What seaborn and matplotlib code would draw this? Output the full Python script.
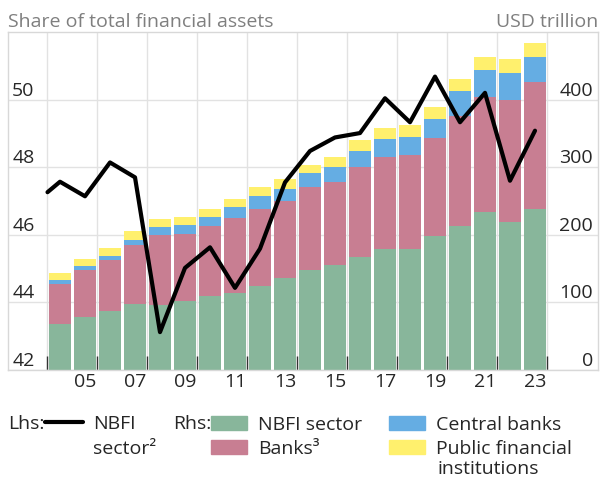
import numpy as np
import pandas as pd
import seaborn as sns
import matplotlib.pyplot as plt
from matplotlib.lines import Line2D
from matplotlib.patches import Patch

sns.set_style("white")
plt.rcParams['font.family'] = ['Open Sans', 'DejaVu Sans']

# bars (rhs, USD trillion)
years = list(range(2004, 2024))
nbfi = [68.5, 78.3, 87.2, 98.0, 96.6, 102.0, 109.9, 113.7, 124.0, 135.5,
        148.3, 155.0, 167.0, 179.3, 179.3, 197.5, 213.3, 233.2, 219.6, 238.0]
banks = [59.1, 69.0, 75.8, 87.2, 102.8, 99.5, 103.4, 111.3, 114.8, 114.1,
         121.7, 123.5, 132.9, 135.3, 138.9, 145.2, 161.9, 170.1, 180.3, 187.4]
central_banks = [4.9, 5.9, 6.0, 7.8, 11.8, 12.7, 12.7, 15.8, 18.2, 18.4,
                 21.0, 22.5, 23.6, 27.2, 27.0, 28.6, 37.5, 40.4, 39.4, 36.9]
public_fi = [10.8, 10.8, 10.8, 12.3, 12.4, 12.8, 12.8, 12.8, 13.0, 14.0,
             12.8, 14.7, 16.8, 16.2, 17.3, 17.2, 17.7, 18.7, 20.1, 21.7]

# line (lhs, share of total financial assets, %)
line_years = [2003.5] + years
nbfi_share = [47.26, 47.57, 47.14, 48.14, 47.70, 43.12, 45.02, 45.63, 44.43, 45.59,
              47.55, 48.48, 48.88, 49.01, 50.04, 49.33, 50.68, 49.33, 50.20, 47.60, 49.08]

GREEN = "#88b69b"
PINK = "#c87e92"
BLUE = "#65ade3"
YELLOW = "#fff06d"
GRID = "#e2e2e2"
FS = 14

df = pd.DataFrame({"year": years, "nbfi": nbfi, "banks": banks,
                   "cb": central_banks, "pfi": public_fi})
df["c1"] = df["nbfi"]
df["c2"] = df["c1"] + df["banks"]
df["c3"] = df["c2"] + df["cb"]
df["c4"] = df["c3"] + df["pfi"]

fig = plt.figure(figsize=(6, 4.78), dpi=100)
ax = fig.add_axes([8 / 600, 1 - 370 / 478, 590 / 600, 338 / 478])
ax2 = ax.twinx()

# stacked bars: draw cumulative totals from the top down
for col, c in [("c4", YELLOW), ("c3", BLUE), ("c2", PINK), ("c1", GREEN)]:
    sns.barplot(data=df, x="year", y=col, native_scale=True, width=0.88,
                color=c, saturation=1, errorbar=None, linewidth=0, ax=ax)

ax.set_xlim(2001.92, 2025.52)
ax.set_ylim(0, 500)
ax.set_xlabel("")
ax.set_ylabel("")
ax.set_axisbelow(True)

ax.set_xticks(np.arange(2003.5, 2024, 2))
ax.set_xticklabels([])
ax.set_xticks(np.arange(2005, 2024, 2), minor=True)
ax.set_xticklabels([f"{y % 100:02d}" for y in range(2005, 2024, 2)], minor=True)
ax.tick_params(axis="x", which="major", direction="in", length=10, width=1,
               color="#333333", bottom=True)
ax.tick_params(axis="x", which="minor", length=0, pad=2.5, labelsize=FS)

ax.set_yticks([0, 100, 200, 300, 400])
ax.yaxis.tick_right()
ax.tick_params(axis="y", length=0, pad=-3.5, labelsize=FS)
for t in ax.get_yticklabels():
    t.set_ha("right")
    t.set_va("bottom")
ax.grid(True, color=GRID, linewidth=1)

for s in ax.spines.values():
    s.set_color("#d8d8d8")
    s.set_linewidth(1)

# lhs line on the twin axis, drawn above the bars
sns.lineplot(x=line_years, y=nbfi_share, color="black", linewidth=3, ax=ax2)
ax2.set_ylim(42, 52)
ax2.set_yticks([42, 44, 46, 48, 50])
ax2.yaxis.tick_left()
ax2.tick_params(axis="y", length=0, pad=-3, labelsize=FS)
for t in ax2.get_yticklabels():
    t.set_ha("left")
    t.set_va("bottom")
ax2.set_ylabel("")
ax2.grid(False)
for s in ax2.spines.values():
    s.set_visible(False)

ax.annotate("Share of total financial assets", xy=(0, 1), xycoords="axes fraction",
            xytext=(0, 0.5), textcoords="offset points", ha="left", va="bottom",
            fontsize=FS, color="#7f7f7f")
ax.annotate("USD trillion", xy=(1, 1), xycoords="axes fraction",
            xytext=(0, 0.5), textcoords="offset points", ha="right", va="bottom",
            fontsize=FS, color="#7f7f7f")

# legend
row1 = 1 - 424 / 478
row2 = 1 - 449 / 478
row3 = 1 - 469 / 478
fig.text(8 / 600, row1, "Lhs:", fontsize=FS, va="center")
fig.text(173 / 600, row1, "Rhs:", fontsize=FS, va="center")

leg1 = fig.legend(handles=[Line2D([], [], color="black", linewidth=3)],
                  labels=["NBFI"], loc="center left",
                  bbox_to_anchor=(45 / 600, row1), frameon=False, fontsize=FS,
                  borderpad=0, borderaxespad=0, handlelength=1.95, handletextpad=0.5)
fig.text(93 / 600, row2, "sector²", fontsize=FS, va="center")

handles = [Patch(color=GREEN), Patch(color=PINK), Patch(color=BLUE), Patch(color=YELLOW)]
labels = ["NBFI sector", "Banks³", "Central banks", "Public financial"]
leg2 = fig.legend(handles=handles, labels=labels, ncol=2, loc="upper left",
                  bbox_to_anchor=(211 / 600, 1 - 416 / 478), frameon=False, fontsize=FS,
                  borderpad=0, borderaxespad=0, handlelength=1.85, handleheight=0.75,
                  handletextpad=0.55, columnspacing=1.4, labelspacing=0.3)
fig.text(437 / 600, row3, "institutions", fontsize=FS, va="center")

fig.savefig("out.png", dpi=100)
